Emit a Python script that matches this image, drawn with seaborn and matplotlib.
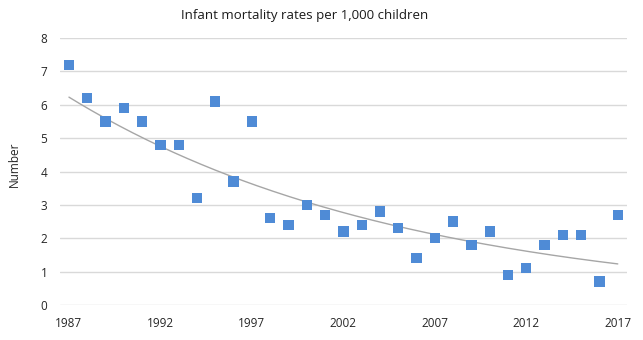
import numpy as np
import pandas as pd
import matplotlib
matplotlib.use("Agg")
import matplotlib.pyplot as plt
import seaborn as sns

years = list(range(1987, 2018))
rates = [7.2, 6.2, 5.5, 5.9, 5.5, 4.8, 4.8, 3.2, 6.1, 3.7, 5.5, 2.6, 2.4, 3.0, 2.7,
         2.2, 2.4, 2.8, 2.3, 1.4, 2.0, 2.5, 1.8, 2.2, 0.9, 1.1, 1.8, 2.1, 2.1, 0.7, 2.7]
xticks = [1987, 1992, 1997, 2002, 2007, 2012, 2017]
yticks = [0, 1, 2, 3, 4, 5, 6, 7, 8]

df = pd.DataFrame({"year": years, "rate": rates})
# Exponential trendline (least squares on log values, as in spreadsheet software)
b, a = np.polyfit(df["year"], np.log(df["rate"]), 1)
trend = pd.DataFrame({"year": np.linspace(years[0], years[-1], 200)})
trend["rate"] = np.exp(a + b * trend["year"])

sns.set_theme(style="white")
plt.rcParams["font.family"] = ["Open Sans", "DejaVu Sans"]

fig = plt.figure(figsize=(6.43, 3.40), dpi=100)
ax = fig.add_axes([0.093, 0.103, 0.882, 0.785])

for y in yticks:
    ax.axhline(y, color="#d9d9d9", lw=1, zorder=0)

sns.lineplot(data=trend, x="year", y="rate", ax=ax, color="#a6a6a6", lw=1, zorder=2)
sns.scatterplot(data=df, x="year", y="rate", ax=ax, marker="s", s=55,
                color="#4f8bd6", edgecolor="none", zorder=3)

ax.set_xlim(1986.5, 2017.5)
ax.set_ylim(0, 8)
ax.set_xticks(xticks)
ax.set_yticks(yticks)
ax.tick_params(axis="x", length=0, labelsize=8.5, labelcolor="#262626", pad=9)
ax.tick_params(axis="y", length=0, labelsize=8.5, labelcolor="#262626", pad=9)
for s in ax.spines.values():
    s.set_visible(False)
ax.set_xlabel("")
ax.set_ylabel("")
fig.text(14 / 643, 1 - 164 / 340, "Number", rotation=90, ha="center", va="center",
         fontsize=8.5, color="#262626")
fig.text(305 / 643, 1 - 15 / 340, "Infant mortality rates per 1,000 children",
         ha="center", va="center", fontsize=9.5, color="#1a1a1a")

fig.savefig("out.png", dpi=100)
